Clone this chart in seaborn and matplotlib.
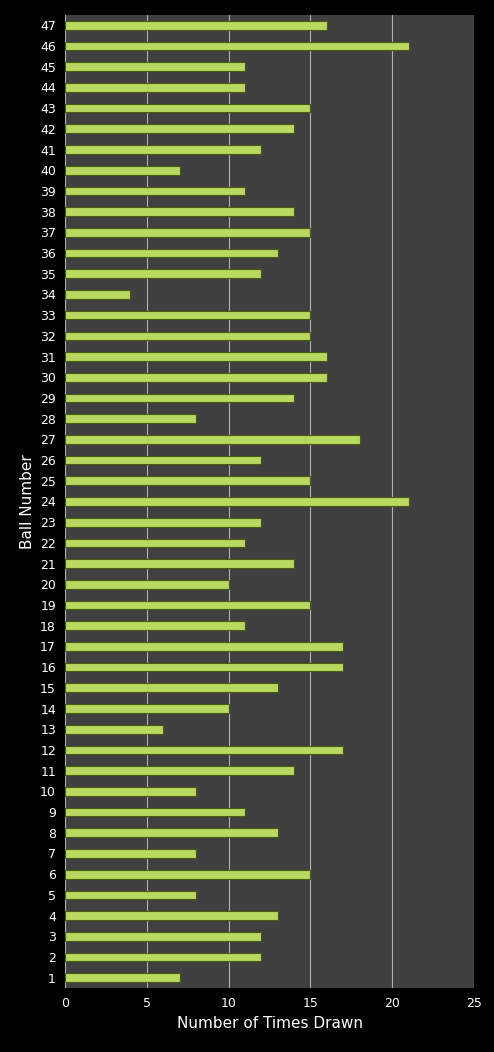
import matplotlib
matplotlib.use("Agg")
import matplotlib.pyplot as plt
import seaborn as sns
import pandas as pd

balls = list(range(1, 48))
counts = [7, 12, 12, 13, 8, 15, 8, 13, 11, 8,
          14, 17, 6, 10, 13, 17, 17, 11, 15, 10,
          14, 11, 12, 21, 15, 12, 18, 8, 14, 16,
          16, 15, 15, 4, 12, 13, 15, 14, 11, 7,
          12, 14, 15, 11, 11, 21, 16]
xticks = [0, 5, 10, 15, 20, 25]

df = pd.DataFrame({"ball": [str(b) for b in balls], "count": counts})
order = [str(b) for b in reversed(balls)]

sns.set_style("dark")
plt.rcParams['font.family'] = ['DejaVu Sans']
fig = plt.figure(figsize=(4.94, 10.52), dpi=100, facecolor="black")
ax = fig.add_axes([0.1316, 0.0608, 0.828, 0.925])
ax.set_facecolor("#404040")
sns.barplot(data=df, x="count", y="ball", order=order, orient="h",
            color="#b8d860", edgecolor="#4a5a10", linewidth=0.8,
            width=0.42, saturation=1, ax=ax, zorder=3)
ax.set_xlim(0, 25)
ax.set_xticks(xticks)
ax.grid(axis="x", color="#b0b0b0", linewidth=0.8, zorder=0)
ax.grid(axis="y", visible=False)
ax.set_axisbelow(True)
for s in ax.spines.values():
    s.set_visible(False)
ax.tick_params(colors="white", labelsize=9, length=3)
ax.set_xlabel("Number of Times Drawn", color="white", fontsize=11)
ax.set_ylabel("Ball Number", color="white", fontsize=11)
fig.savefig("out.png", dpi=100, facecolor="black")
